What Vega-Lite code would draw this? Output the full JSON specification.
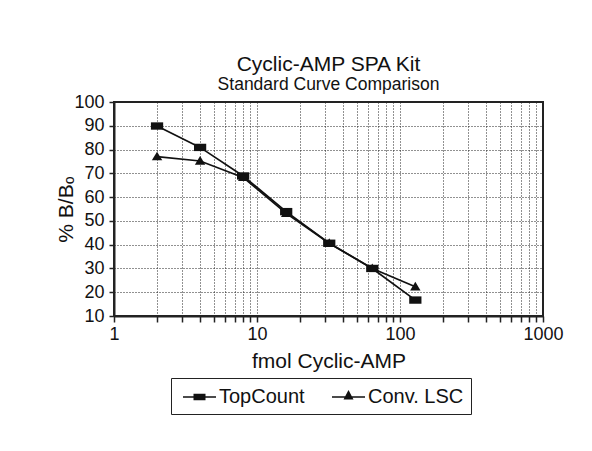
{
  "$schema": "https://vega.github.io/schema/vega-lite/v6.json",
  "width": 429,
  "height": 214,
  "autosize": {"type": "none"},
  "padding": {"left": 114, "top": 102, "right": 49, "bottom": 135},
  "background": "white",
  "title": {
    "text": "Cyclic-AMP SPA Kit",
    "subtitle": "Standard Curve Comparison",
    "anchor": "middle",
    "fontSize": 21,
    "subtitleFontSize": 17.5,
    "font": "Liberation Sans",
    "subtitleFont": "Liberation Sans",
    "fontWeight": "normal",
    "color": "#111",
    "subtitleColor": "#111",
    "offset": 0,
    "subtitlePadding": 1
  },
  "config": {
    "font": "Liberation Sans",
    "view": {"stroke": "#222", "strokeWidth": 2},
    "axis": {
      "domainColor": "#222",
      "domainWidth": 2,
      "tickColor": "#222",
      "tickWidth": 1.5,
      "tickSize": 5,
      "labelColor": "#111",
      "labelFontSize": 18,
      "labelFont": "Liberation Sans",
      "titleFont": "Liberation Sans",
      "titleFontSize": 21,
      "titleFontWeight": "normal",
      "titleColor": "#111",
      "grid": true,
      "gridColor": "#222",
      "gridDash": [1, 2],
      "gridWidth": 1,
      "gridOpacity": 1,
      "labelFlush": false,
      "labelOverlap": false
    },
    "legend": {
      "labelFont": "Liberation Sans",
      "labelFontSize": 20,
      "labelColor": "#111"
    }
  },
  "data": {
    "values": [
      {"fmol": 2, "pct": 89.9, "series": "TopCount"},
      {"fmol": 4, "pct": 80.9, "series": "TopCount"},
      {"fmol": 8, "pct": 68.9, "series": "TopCount"},
      {"fmol": 16, "pct": 53.9, "series": "TopCount"},
      {"fmol": 32, "pct": 40.6, "series": "TopCount"},
      {"fmol": 64, "pct": 30.0, "series": "TopCount"},
      {"fmol": 128, "pct": 16.7, "series": "TopCount"},
      {"fmol": 2, "pct": 77.0, "series": "Conv. LSC"},
      {"fmol": 4, "pct": 75.2, "series": "Conv. LSC"},
      {"fmol": 8, "pct": 68.3, "series": "Conv. LSC"},
      {"fmol": 16, "pct": 53.2, "series": "Conv. LSC"},
      {"fmol": 32, "pct": 40.6, "series": "Conv. LSC"},
      {"fmol": 64, "pct": 30.0, "series": "Conv. LSC"},
      {"fmol": 128, "pct": 22.3, "series": "Conv. LSC"}
    ]
  },
  "encoding": {
    "x": {
      "field": "fmol",
      "type": "quantitative",
      "scale": {"type": "log", "domain": [1, 1000], "nice": false},
      "axis": {
        "title": "fmol Cyclic-AMP",
        "values": [1, 2, 3, 4, 5, 6, 7, 8, 9, 10, 20, 30, 40, 50, 60, 70, 80, 90, 100, 200, 300, 400, 500, 600, 700, 800, 900, 1000],
        "format": "d",
        "labelExpr": "(datum.value == 1 || datum.value == 10 || datum.value == 100 || datum.value == 1000) ? datum.label : ''",
        "tickSize": 6,
        "labelPadding": 3,
        "titlePadding": 7
      }
    },
    "y": {
      "field": "pct",
      "type": "quantitative",
      "scale": {"domain": [10, 100], "nice": false, "zero": false},
      "axis": {
        "title": "% B/Bₒ",
        "values": [10, 20, 30, 40, 50, 60, 70, 80, 90, 100],
        "labelPadding": 5,
        "titlePadding": -3
      }
    }
  },
  "layer": [
    {
      "mark": {"type": "line", "color": "#111", "strokeWidth": 1.7},
      "encoding": {"detail": {"field": "series"}}
    },
    {
      "transform": [{"filter": "datum.series === 'TopCount'"}],
      "mark": {"type": "point", "filled": true, "color": "#111", "opacity": 1, "size": 150, "shape": "M-1,-0.6H1V0.6H-1Z"}
    },
    {
      "transform": [{"filter": "datum.series === 'Conv. LSC'"}],
      "mark": {"type": "point", "filled": true, "color": "#111", "opacity": 1, "size": 150, "shape": "M-0.85,0.6L0,-0.8L0.85,0.6Z"}
    },
    {
      "transform": [{"filter": "false"}],
      "mark": {"type": "point", "filled": true, "fill": "#111", "opacity": 1},
      "encoding": {
        "shape": {
          "field": "series",
          "type": "nominal",
          "scale": {
            "domain": ["TopCount", "Conv. LSC"],
            "range": ["M-0.65,-0.03H2.65V0.13H-0.65Z M0.4,-0.27H1.6V0.37H0.4Z", "M-0.65,-0.03H2.65V0.13H-0.65Z M0.5,0.3L1,-0.65L1.5,0.3Z"]
          },
          "legend": {
            "title": null,
            "orient": "none",
            "legendX": 57,
            "legendY": 276,
            "direction": "horizontal",
            "strokeColor": "#222",
            "padding": 7.5,
            "columnPadding": 22,
            "symbolSize": 400,
            "symbolFillColor": "#111",
            "symbolOpacity": 1,
            "labelOffset": 18.5,
            "values": ["TopCount", "Conv. LSC"]
          }
        }
      }
    }
  ]
}
